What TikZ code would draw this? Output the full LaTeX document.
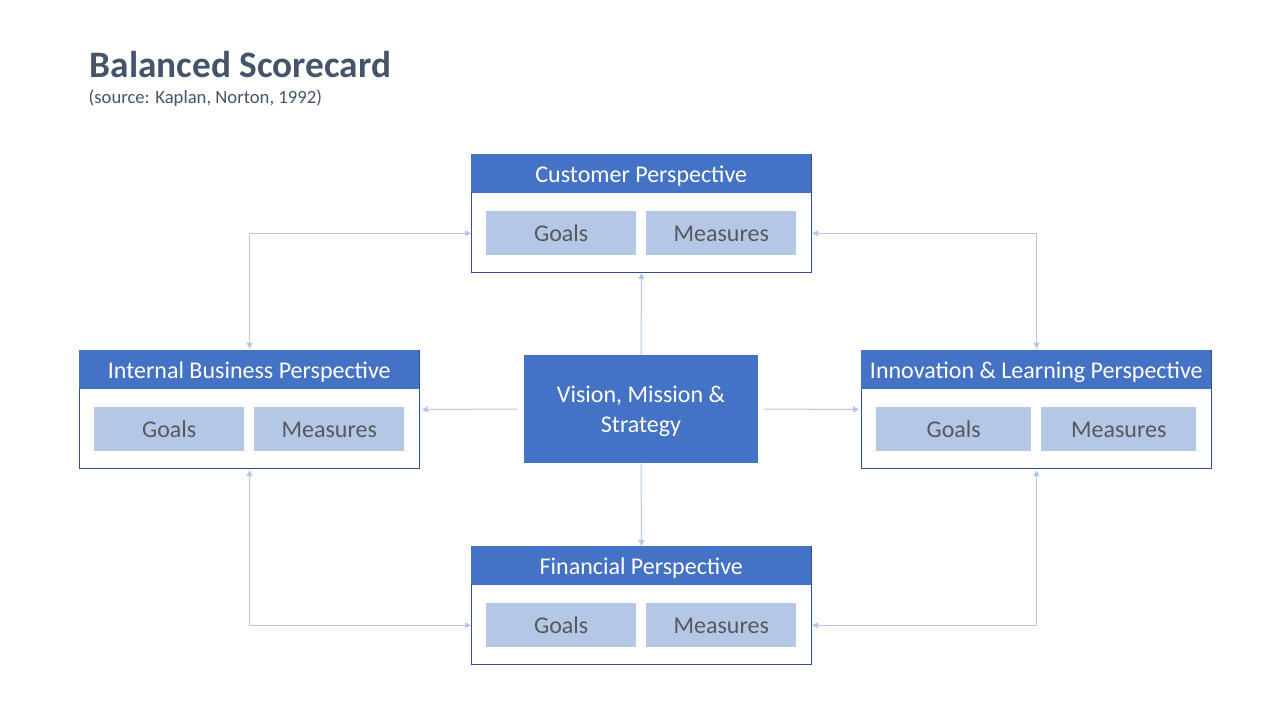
\documentclass[tikz,border=0pt]{standalone}
\usepackage{fontspec}
\setmainfont{Carlito}
\usepackage{tikz}
\usetikzlibrary{positioning,arrows.meta,calc}
\usepackage{xcolor}
\definecolor{hdrblue}{RGB}{68,114,196}
\definecolor{cellblue}{RGB}{180,199,231}
\definecolor{edgeblue}{RGB}{47,82,143}
\definecolor{linkblue}{RGB}{180,199,231}
\definecolor{titleslate}{RGB}{68,84,106}
\definecolor{cellgray}{RGB}{89,89,89}

\begin{document}
\begin{tikzpicture}[x=0.75pt,y=-0.75pt,
frame/.style={draw=edgeblue,line width=0.75pt,fill=white,anchor=north west,inner sep=0},
header/.style={fill=hdrblue,text=white,anchor=north west,inner sep=0,minimum height=39*0.75pt,
text height=16pt,text depth=3.5pt,font=\fontsize{18}{21.6}\selectfont},
cell/.style={fill=cellblue,text=cellgray,anchor=north west,inner sep=0,minimum height=44*0.75pt,
text height=16pt,text depth=3pt,font=\fontsize{18}{21.6}\selectfont},
link/.style={draw=linkblue,line width=0.75pt,-{Triangle[width=4.5pt,length=4.5pt]}},
twoway/.style={link,{Triangle[width=4.5pt,length=4.5pt]}-{Triangle[width=4.5pt,length=4.5pt]}}]
\useasboundingbox (0,0) rectangle (1280,720);
% Title
\node[anchor=base west,text=titleslate,font=\fontsize{28}{34}\selectfont\bfseries] (title) at (85,78) {Balanced Scorecard};
\node[anchor=base west,text=titleslate,font=\fontsize{14}{17}\selectfont] (source) at (84,104) {(source: Kaplan, Norton, 1992)};
% Perspectives
\foreach \n/\x/\y/\w/\t in {cust/471/154/340/Customer Perspective,
intl/79/350/340/Internal Business Perspective,
innov/861/350/350/Innovation \& Learning Perspective,
fin/471/546/340/Financial Perspective}{
\pgfmathsetmacro{\cw}{(\w-40)/2}
\node[frame,minimum width=\w*0.75pt,minimum height=118*0.75pt] (\n) at (\x,\y) {};
\node[header,minimum width=\w*0.75pt] (\n-head) at (\x,\y) {\t};
\node[cell,minimum width=\cw*0.75pt] (\n-goal) at (\x+15,\y+57) {Goals};
\node[cell,minimum width=\cw*0.75pt] (\n-meas) at (\x+25+\cw,\y+57) {Measures};
}
% Centre
\node[fill=hdrblue,text=white,inner sep=0,align=center,minimum width=234*0.75pt,minimum height=108*0.75pt,
font=\fontsize{18}{22.5}\selectfont] (vis) at (641,409) {\rule{0pt}{16.5pt}Vision, Mission \&\\Strategy};
% Links
\draw[link] (vis.north) -- (cust.south);
\draw[link] (vis.south) -- (fin.north);
\draw[link,shorten <=4.5pt,shorten >=1.5pt] (vis.west) -- (intl.east);
\draw[link,shorten <=4pt,shorten >=1.5pt] (vis.east) -- (innov.west);
\draw[twoway,shorten <=1pt] (intl.north) |- (cust.west |- cust-goal);
\draw[twoway,shorten <=1pt] (innov.north) |- (cust.east |- cust-meas);
\draw[twoway,shorten <=1pt] (intl.south) |- (fin.west |- fin-goal);
\draw[twoway,shorten <=1pt] (innov.south) |- (fin.east |- fin-meas);
\end{tikzpicture}
\end{document}
